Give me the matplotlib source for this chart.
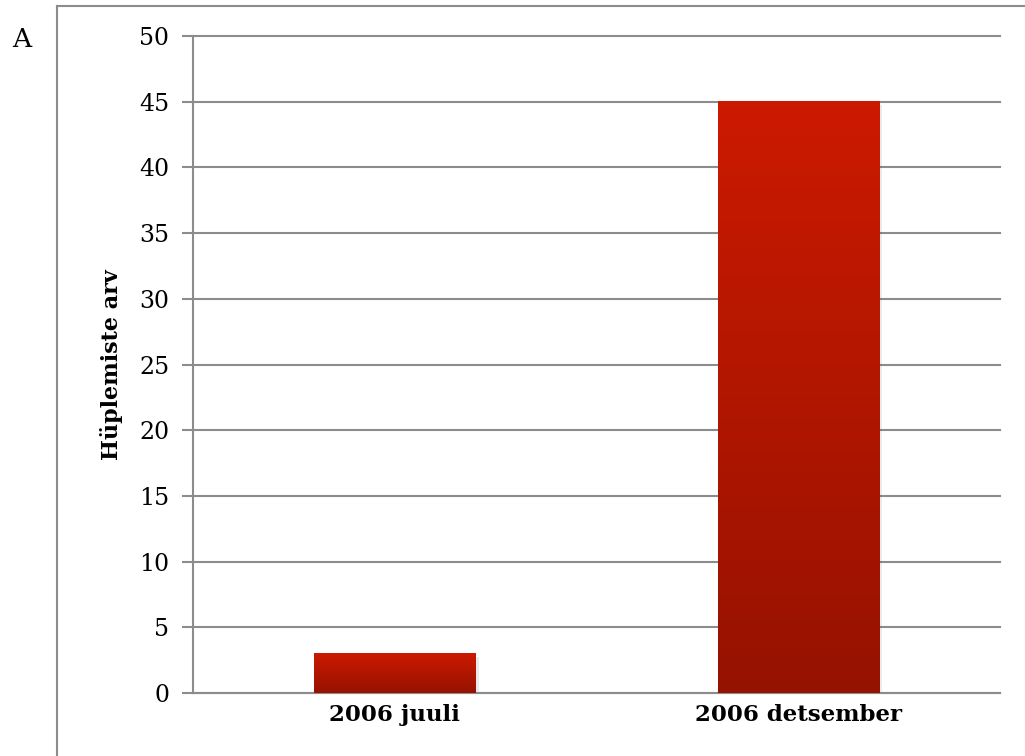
#import libraries
import matplotlib
matplotlib.use("Agg")
import matplotlib.pyplot as plt
import numpy as np
from matplotlib.colors import LinearSegmentedColormap

#chart data
categories = ["2006 juuli", "2006 detsember"]
values = [3, 45]
yticks = [0, 5, 10, 15, 20, 25, 30, 35, 40, 45, 50]

plt.rcParams['font.family'] = ['DejaVu Serif']
grid_color = "#8c8c8c"

fig = plt.figure(figsize=(10.25, 7.56), dpi=100)
ax = fig.add_axes([0.1883, 0.0833, 0.7873, 0.8691])

#outer frame, only left and top edges visible
fig.add_artist(plt.Line2D([0.0556, 0.0556], [0.0, 0.9921], color=grid_color, lw=1.5, transform=fig.transFigure))
fig.add_artist(plt.Line2D([0.0556, 1.0], [0.9921, 0.9921], color=grid_color, lw=1.5, transform=fig.transFigure))
fig.text(0.021, 0.948, "A", fontsize=19, va="center", ha="center")

x = np.arange(len(categories))
bars = ax.bar(x, values, width=0.4, color="none", zorder=3)

#vertical gradient for each bar
cmap = LinearSegmentedColormap.from_list("redgrad", ["#961200", "#cc1a00"])
grad = np.linspace(0, 1, 256).reshape(-1, 1)
for b in bars:
    x0 = b.get_x()
    w = b.get_width()
    h = b.get_height()
    # soft shadow
    ax.bar(x0 + w / 2 + 0.004, h, width=w + 0.008, bottom=-0.25, color="#000000", alpha=0.08, zorder=2)
    ax.imshow(grad, cmap=cmap, origin="lower", aspect="auto", extent=(x0, x0 + w, 0, h), zorder=3)

ax.set_xlim(-0.5, 1.5)
ax.set_ylim(0, 50)
ax.set_yticks(yticks)
ax.set_xticks(x)
ax.set_xticklabels(categories, fontsize=16.5, fontweight="bold")
ax.tick_params(axis="y", labelsize=17, length=8, width=1.5, color=grid_color, pad=9)
ax.tick_params(axis="x", length=0, pad=8)
ax.yaxis.grid(True, color=grid_color, lw=1.5, zorder=1)
for gl in ax.get_ygridlines():
    gl.set_clip_on(False)
ax.set_axisbelow(True)

for s in ["top", "right"]:
    ax.spines[s].set_visible(False)
ax.spines["left"].set_color(grid_color)
ax.spines["left"].set_linewidth(1.5)
ax.spines["bottom"].set_color(grid_color)
ax.spines["bottom"].set_linewidth(1.5)

ax.set_ylabel("Hüplemiste arv", fontsize=16, fontweight="bold", labelpad=12)

fig.savefig("out.png", dpi=100)
